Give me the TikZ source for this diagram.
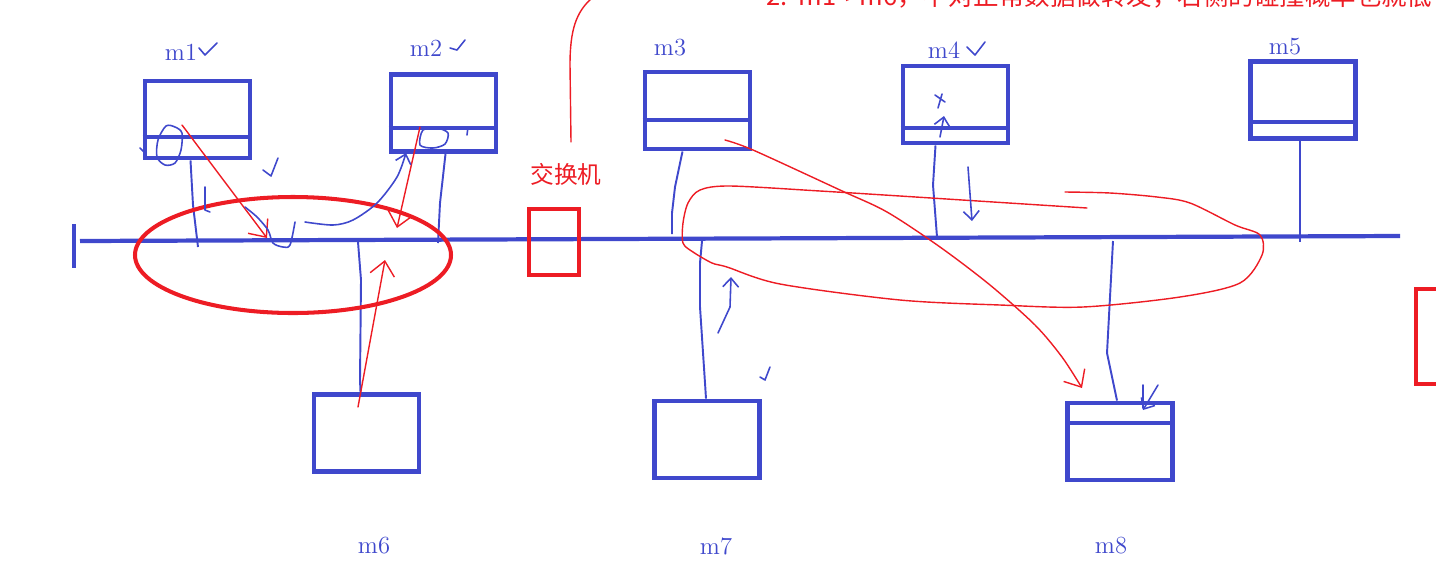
\documentclass[tikz,border=0pt]{standalone}
\usepackage{fontspec}
\newfontfamily\cjk{Noto Sans CJK SC}
\usepackage{xcolor}
\usepackage{tikz}
\usetikzlibrary{arrows.meta,calc}
\definecolor{penblue}{HTML}{3F48CC}
\definecolor{penred}{HTML}{ED1C24}

\begin{document}
\begin{tikzpicture}[x=0.02cm,y=-0.02cm,>={Straight Barb[length=8pt,width=14pt]},
  host/.style={draw=penblue,line width=2.8pt,minimum width=2.1cm,minimum height=1.54cm,inner sep=0pt},
  hostlabel/.style={text=penblue,font=\fontsize{14}{16}\selectfont,inner sep=0pt},
  bus/.style={penblue,line width=2.4pt},
  wire/.style={penblue,line width=1.1pt},
  pen/.style={penblue,line width=0.9pt,line cap=round,line join=round},
  handtip/.style={-{Straight Barb[length=5pt,width=9pt]}},
  redpen/.style={penred,line width=0.8pt,line cap=round,line join=round},
  redbold/.style={penred,line width=2.3pt}]
  \useasboundingbox (0,0) rectangle (1436,566);
  % note at the top, cut by the page edge
  \node[text=penred,font=\cjk\fontsize{14.5}{17}\selectfont,anchor=base west,inner sep=0pt] (note) at (766,5) {2.\ \ m1->m6，不对正常数据做转发，右侧的碰撞概率也就低};
  % bus
  \coordinate (busL) at (80,241);
  \coordinate (busR) at (1400,236);
  \draw[bus] (busL) -- (busR);
  \draw[bus] ($(busL)+(-6,-17)$) -- ($(busL)+(-6,27)$);
  % hosts
  \node[host] (m1) at (197.5,119.5) {};
  \node[host] (m2) at (443.5,113) {};
  \node[host] (m3) at (697.5,110.5) {};
  \node[host] (m4) at (955.5,104.5) {};
  \node[host] (m5) at (1303,100) {};
  \node[host] (m6) at (366.5,433) {};
  \node[host] (m7) at (707,439.5) {};
  \node[host] (m8) at (1120,441.5) {};
  \foreach \h/\y in {m1/137,m2/128,m3/120,m4/128,m5/122,m8/423}
    \draw[penblue,line width=2.8pt] (\h.west |- 0,\y) -- (\h.east |- 0,\y);
  \foreach \h/\x/\y in {m1/181/52,m2/426/48,m3/670/48,m4/944/50,m5/1285/47,m6/374/546,m7/716/546,m8/1111/546}
    \node[hostlabel] (l\h) at (\x,\y) {\h};
  % ticks after names
  \draw[pen] (199,48) -- (205,55) -- (217,43);
  \draw[pen] (450,48) -- (457,50) -- (465,40);
  \draw[pen] (967,47) -- (975,55) -- (985,42);
  % drops to the bus
  \coordinate (t1) at (198,247);
  \coordinate (t2) at (438,243);
  \coordinate (t3) at (672,234);
  \coordinate (t4) at (937,237);
  \coordinate (t5) at (1300,242);
  \coordinate (t6) at (358,242);
  \coordinate (t7) at (702,241);
  \coordinate (t8) at (1113,241);
  \draw[wire] ($(m1.south)+(-7,0)$) -- (193,205) -- (t1);
  \draw[wire] ($(m2.south)+(2,0)$) -- (440,203) -- (t2);
  \draw[wire] ($(m3.south)+(-15,0)$) -- (675,187) -- (672,213) -- (t3);
  \draw[wire] ($(m4.south)+(-20,0)$) -- (933,185) -- (t4);
  \draw[wire] ($(m5.south)+(-3,0)$) -- (t5);
  \draw[wire] (t6) -- (361,280) -- (360,380) -- ($(m6.north)+(-6,0)$);
  \draw[wire] (t7) -- (700,263) -- (700,307) -- (705,383) -- ($(m7.north)+(-1,0)$);
  \draw[wire] (t8) -- (1107,353) -- ($(m8.north)+(-3,0)$);
  % switch
  \node[draw=penred,line width=2.2pt,minimum width=1cm,minimum height=1.32cm,inner sep=0pt] (sw) at (554,242) {};
  \node[text=penred,font=\cjk\fontsize{13.5}{16}\selectfont] (swname) at (566,174) {交换机};
  \coordinate (lead) at (571,142);
  \draw[redpen] (lead) -- (570,65) .. controls (570,30) and (576,12) .. (592,-2);
  % collision areas
  \draw[redbold] (293,255) ellipse [x radius=158,y radius=58];
  \draw[redbold] (1416,289) rectangle (1470,384);
  \draw[redpen] plot[smooth] coordinates {(1087,208) (1040,205) (900,196) (820,191) (730,186) (700,190) (688,203) (683,223) (683,243) (693,252) (712,263) (727,267) (780,284) (900,300) (1000,305) (1083,307) (1180,297) (1240,283) (1262,255) (1260,235) (1235,225) (1190,203) (1157,197) (1110,193) (1065,192)};
  % red arrows
  \coordinate (r1) at (182,125);
  \coordinate (r1e) at (267,238);
  \draw[redpen,->] (r1) -- (r1e);
  \coordinate (r2) at (420,127);
  \coordinate (r2e) at (397,228);
  \draw[redpen,->] (r2) -- (r2e);
  \coordinate (r6) at (358,407);
  \coordinate (r6e) at (385,260);
  \draw[redpen,->] (r6) -- (r6e);
  \coordinate (r3) at (725,140);
  \coordinate (r8) at (1082,388);
  \draw[redpen,->] plot[smooth] coordinates {(r3) (753,150) (840,190) (887,212) (940,247) (990,285) (1035,325) (1062,357) (r8)};
  % blue pen marks
  \draw[pen,handtip] plot[smooth] coordinates {(305,222) (333,225) (353,220) (377,203) (397,177) (406,153)};
  \draw[pen] plot[smooth] coordinates {(245,207) (257,217) (268,230) (273,243) (283,247) (290,245) (295,222)};
  \draw[pen] plot[smooth cycle] coordinates {(166,126) (158,140) (157,157) (165,165) (175,163) (181,150) (182,133) (175,127)};
  \draw[pen] (140,148) -- (145,153);
  \draw[pen] (205,187) -- (205,210) -- (210,212);
  \draw[pen] (263,170) -- (271,176) -- (278,158);
  \draw[pen] plot[smooth cycle] coordinates {(423,130) (420,145) (433,148) (445,144) (448,133) (437,128)};
  \draw[pen] (468,127) -- (467,135);
  \draw[pen,handtip] (940,137) -- (944,116);
  \draw[pen] (935,95) -- (945,102) (942,94) -- (938,108);
  \draw[pen,handtip] (968,167) -- (972,221);
  \draw[pen,handtip] (718,333) -- (730,307) -- (731,277);
  \draw[pen] (760,377) -- (765,380) -- (770,367);
  \draw[pen,handtip] (1158,385) -- (1143,410);
  \draw[pen] (1143,385) -- (1143,408);
\end{tikzpicture}
\end{document}
